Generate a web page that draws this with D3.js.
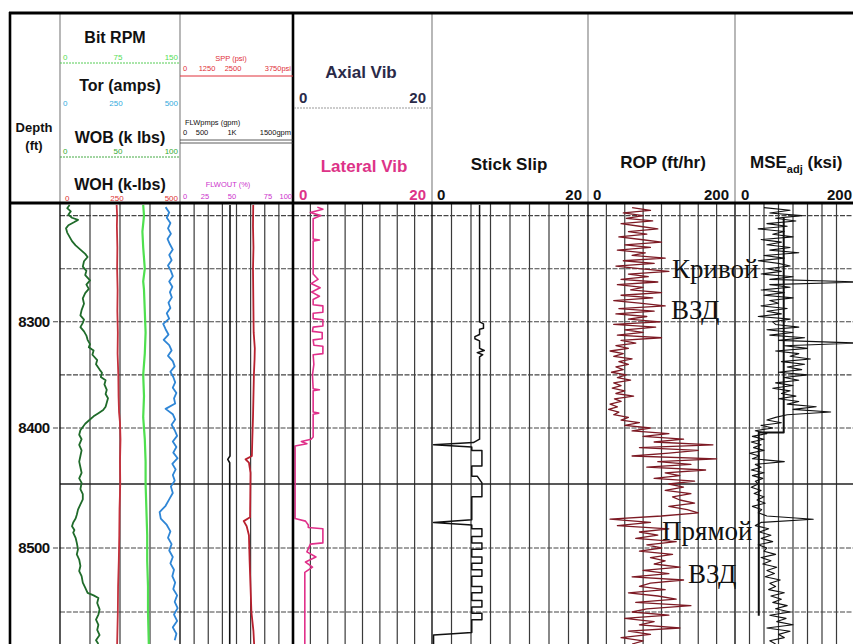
<!DOCTYPE html>
<html>
<head>
<meta charset="utf-8">
<script src="https://cdn.jsdelivr.net/npm/d3@7"></script>
<style>
body { margin: 0; background: #fff; }
svg { display: block; font-family: "Liberation Sans", Arial, sans-serif; }
</style>
</head>
<body>
<svg id="chart" width="853" height="644"></svg>
<script>
// DATA
// depth labels and grid (ft)
var depthLabels = [8300, 8400, 8500];
var gridDepths = [8200, 8250, 8300, 8350, 8400, 8450, 8500, 8550];

// Track 1 : [depth, value]
var wob = [[8190,8],[8193,6],[8196,9],[8199,7],[8202,10],[8204,15],[8206,12],[8209,7],[8212,5],[8216,6],[8220,8],[8224,10],[8228,13],[8232,17],[8236,21],[8239,23],[8243,20],[8248,19],[8252,22],[8256,21],[8261,25],[8265,22],[8269,24],[8273,21],[8278,19],[8283,20],[8289,18],[8294,17],[8298,20],[8301,19],[8305,17],[8309,20],[8313,22],[8317,23],[8321,25],[8324,24],[8327,28],[8331,27],[8336,31],[8340,30],[8345,33],[8348,35],[8352,34],[8355,38],[8359,37],[8364,39],[8368,38],[8372,40],[8376,39],[8380,38],[8383,36],[8386,32],[8389,28],[8392,25],[8396,21],[8399,19],[8402,17],[8406,16],[8410,18],[8415,16],[8420,18],[8425,17],[8430,16],[8435,17],[8440,18],[8445,16],[8449,18],[8454,17],[8458,19],[8462,19],[8466,17],[8470,15],[8474,14],[8477,13],[8480,11],[8483,10],[8486,12],[8488,11],[8492,13],[8496,14],[8501,15],[8505,14],[8509,16],[8514,17],[8518,16],[8522,18],[8527,19],[8531,21],[8535,23],[8537,28],[8539,32],[8543,31],[8548,33],[8552,32],[8556,30],[8560,32],[8564,31],[8568,33],[8572,30],[8575,32]];
var torDepthStart = 8192, torDepthStep = 5;
var torVals = [440,455,445,460,450,462,448,458,470,455,
  465,450,462,470,455,468,458,466,452,460,
  445,455,430,440,452,432,455,465,450,470,
  478,460,472,480,470,485,475,480,440,470,
  480,465,478,488,470,485,472,490,468,482,
  470,478,462,470,455,440,415,420,445,460,
  450,465,455,470,460,475,468,480,472,488,
  478,490,475,488,470,485,478];
var woh = [[8190,236],[8200,238],[8210,237],[8230,239],[8250,238],[8270,240],[8290,239],[8310,241],[8330,240],[8350,243],[8370,244],[8385,246],[8395,250],[8410,252],[8430,250],[8450,251],[8470,248],[8490,247],[8510,245],[8530,242],[8550,241],[8575,238]];
var rpm = [[8190,104],[8200,105],[8215,103],[8230,104],[8250,106],[8262,104],[8270,105],[8290,106],[8310,107],[8330,106],[8350,104],[8370,105],[8390,104],[8410,106],[8430,107],[8450,107],[8470,108],[8490,109],[8510,109],[8530,110],[8550,110],[8575,111]];

// Track 2
var spp = [[8190,3240],[8210,3230],[8230,3250],[8250,3230],[8270,3240],[8290,3250],[8310,3260],[8325,3310],[8335,3300],[8350,3270],[8370,3250],[8390,3230],[8410,3200],[8425,3180],[8428,2900],[8431,3050],[8440,3120],[8460,3110],[8476,3100],[8479,2820],[8483,2950],[8490,3050],[8510,3080],[8530,3120],[8550,3160],[8565,3250],[8575,3280]];
var flwIn = [[8190,885],[8300,885],[8425,885],[8428,845],[8431,880],[8575,880]];

// Track 3 lateral vibration
var latVib = [[8192,3.5],[8194,4.3],[8197,2.5],[8200,4.0],[8203,2.9],[8215,2.9],[8222,2.9],[8223,3.8],[8224,2.9],[8255,2.9],[8260,3.6],[8264,2.6],[8268,3.9],[8272,2.7],[8276,3.8],[8279,2.9],[8284,2.9],[8285,4.3],[8291,4.3],[8292,2.9],[8297,2.9],[8298,4.3],[8304,4.3],[8305,2.9],[8309,2.8],[8310,4.2],[8316,4.2],[8317,2.9],[8322,3.0],[8323,4.3],[8330,4.3],[8331,2.9],[8340,3.0],[8350,2.8],[8363,2.9],[8364,3.8],[8365,2.9],[8385,2.9],[8386,3.7],[8387,2.9],[8408,2.9],[8410,2.6],[8412,1.2],[8414,2.0],[8416,0.3],[8477,0.3],[8479,1.8],[8482,2.2],[8484,2.2],[8485,4.3],[8496,4.3],[8497,2.5],[8503,2.0],[8507,3.3],[8511,1.8],[8515,2.8],[8519,1.7],[8524,1.7],[8575,1.7]];

// Track 4 stick slip
var stickSlip = [[8190,6.1],[8300,6.1],[8302,6.6],[8306,6.6],[8307,6.1],[8312,6.1],[8314,5.5],[8316,5.5],[8318,6.1],[8325,6.1],[8327,6.7],[8329,5.8],[8331,6.5],[8333,6.1],[8410,6.1],[8413,5.3],[8415,0.2],[8417,5.1],[8420,5.1],[8420,6.4],[8434,6.4],[8434,5.1],[8443,5.1],[8443,5.8],[8449,6.4],[8460,6.4],[8460,5.1],[8478,5.1],[8480,0.2],[8482,5.1],[8485,5.1],[8485,6.4],[8491,6.4],[8491,5.1],[8496,5.1],[8496,6.4],[8501,6.4],[8501,5.1],[8507,5.1],[8507,6.4],[8512,6.4],[8512,5.1],[8517,5.1],[8517,6.4],[8522,6.4],[8522,5.1],[8530,5.1],[8530,6.4],[8535,6.4],[8535,5.1],[8541,5.1],[8541,6.4],[8546,6.4],[8546,5.1],[8551,5.1],[8551,6.4],[8556,6.4],[8556,5.1],[8566,5.1],[8567,2.7],[8568,0.2],[8575,0.2]];

// Tracks 5 and 6, sampled every 2.5 ft from 8192.5 ft
var logStart = 8192.5, logStep = 2.5;
var rop = [60,85,48,75, 52,88,45,70, 95,55,80,42, 72,100,50,85, 40,78,60,105,
  48,90,38,70, 110,55,82,45, 95,40,75,58, 100,45,88,35, 70,105,42,90,
  38,80,55,98, 35,92,50,75, 40,100,45,65, 38,55,30,48, 35,60,42,55,
  38,48,32,52, 40,58,35,45, 33,50,38,62, 36,45,30,40, 28,42,35,55,
  45,70,50,85, 60,110,75,130, 90,170,70,150, 110,60,175,95, 140,80,160,105,
  125,90,145,110, 130,105,140,115, 125,145,110,135, 150,100,30,85, 40,110,70,95,
  65,120,80,100, 70,115,85,105, 90,125,75,110, 60,130,85,70, 105,55,95,120,
  65,140,80,60, 110,50,90,70, 125,55,85,45, 75,60];
var mse = [50,95,60,115, 70,105,55,90, 40,85,65,100, 45,80,55,95, 60,110,50,85,
  40,75,95,55, 80,45,100,60, 215,60,95,45, 85,50,100,60, 75,45,90,55,
  80,40,95,65, 70,110,55,100, 60,120,75,215, 85,125,70,110, 95,130,80,120,
  90,115,75,125, 85,110,70,100, 65,95,80,105, 75,110,90,140, 100,165,90,70,
  55,80,45,65, 35,55,30,50, 28,45,32,50, 25,42,30,85, 35,45,28,50,
  30,48,35,40, 28,45,33,50, 38,52,30,46, 40,55,135,45, 35,58,42,62,
  45,65,40,55, 50,70,45,62, 48,72,55,68, 52,78,60,70, 58,85,62,80,
  65,90,70,95, 60,88,72,100, 55,95,75,85, 60,70];
var mseTrend = [[8202,84],[8404,84],[8404,41],[8553,41]];

// annotations [text, depth of baseline]
var notes = [["Кривой", 8259], ["ВЗД", 8297], ["Прямой", 8494], ["ВЗД", 8527]];

// LAYOUT
var svg = d3.select('#chart');
var headTop = 13, headBot = 203, bottomY = 644;
var y = d3.scaleLinear().domain([8190, 8400, 8450, 8550]).range([205, 428, 484, 612]);
var tracks = [
  {x0: 60, x1: 180, div: 4},
  {x0: 180, x1: 293, div: 8},
  {x0: 293, x1: 432, div: 8},
  {x0: 432, x1: 588, div: 8},
  {x0: 588, x1: 735, div: 8},
  {x0: 735, x1: 851, div: 8}
];

var rpmX = d3.scaleLinear([0, 150], [60, 180]);
var torX = d3.scaleLinear([0, 500], [60, 180]);
var wobX = d3.scaleLinear([0, 100], [60, 180]);
var wohX = d3.scaleLinear([0, 500], [60, 180]);
var sppX = d3.scaleLinear([0, 5000], [180, 293]);
var flwX = d3.scaleLinear([0, 2000], [180, 293]);
var latX = d3.scaleLinear([0, 20], [293, 432]);
var stickX = d3.scaleLinear([0, 20], [432, 588]);
var ropX = d3.scaleLinear([0, 200], [588, 735]);
var mseX = d3.scaleLinear([0, 200], [735, 851]);

svg.append('clipPath').attr('id', 'dataClip')
  .append('rect').attr('x', 10).attr('y', headBot).attr('width', 843).attr('height', bottomY - headBot);

var grid = svg.append('g').attr('clip-path', 'url(#dataClip)');

// vertical grid lines in each track
tracks.forEach(function(t) {
  var xs = d3.range(1, t.div).map(function(k) { return t.x0 + k * (t.x1 - t.x0) / t.div; });
  grid.selectAll(null).data(xs).enter().append('line')
    .attr('x1', function(d) { return d; }).attr('x2', function(d) { return d; })
    .attr('y1', headBot).attr('y2', bottomY)
    .attr('stroke', '#3a3a3a').attr('stroke-width', 1.2);
});

// horizontal depth grid
grid.selectAll(null).data(gridDepths).enter().append('line')
  .attr('x1', function(d) { return depthLabels.indexOf(d) >= 0 ? 53 : 60; })
  .attr('x2', 853)
  .attr('y1', function(d) { return y(d); }).attr('y2', function(d) { return y(d); })
  .attr('stroke', function(d) { return d === 8450 ? '#222' : '#444'; })
  .attr('stroke-width', function(d) { return d === 8450 ? 1.6 : 1.1; })
  .attr('stroke-dasharray', function(d) { return d === 8450 ? null : '5,1.5'; });

// depth labels
svg.selectAll(null).data(depthLabels).enter().append('text')
  .attr('x', 34).attr('y', function(d) { return y(d) + 5; })
  .attr('text-anchor', 'middle').attr('font-size', 15).attr('font-weight', 'bold')
  .attr('fill', '#111').attr('letter-spacing', -0.5)
  .text(function(d) { return d; });

// curves
var curves = svg.append('g').attr('clip-path', 'url(#dataClip)');
function drawCurve(data, xs, color, width) {
  curves.append('path').datum(data)
    .attr('d', d3.line().x(function(d) { return xs(d[1]); }).y(function(d) { return y(d[0]); }))
    .attr('fill', 'none').attr('stroke', color).attr('stroke-width', width)
    .attr('stroke-linejoin', 'round');
}
var torData = torVals.map(function(v, i) { return [torDepthStart + i * torDepthStep, v]; });
var ropData = rop.map(function(v, i) { return [logStart + i * logStep, v]; });
var mseData = mse.map(function(v, i) { return [logStart + i * logStep, v]; });

drawCurve(wob, wobX, '#1f6b2a', 1.8);
drawCurve(woh, wohX, '#c4303c', 1.8);
drawCurve(rpm, rpmX, '#4fe04f', 2.2);
drawCurve(torData, torX, '#2f86d6', 1.8);
drawCurve(flwIn, flwX, '#111', 1.6);
drawCurve(spp, sppX, '#b8202e', 1.8);
drawCurve(latVib, latX, '#e0308a', 1.6);
drawCurve(stickSlip, stickX, '#111', 1.5);
drawCurve(ropData, ropX, '#7d1a24', 1.3);
drawCurve(mseData, mseX, '#111', 1.1);
drawCurve(mseTrend, mseX, '#111', 2);

// annotations
svg.selectAll(null).data(notes).enter().append('text')
  .attr('x', function(d, i) { return [672, 671, 662, 688][i]; })
  .attr('y', function(d) { return y(d[1]); })
  .style('font-family', '"Liberation Serif", "Times New Roman", serif')
  .attr('font-size', 27).attr('fill', '#111')
  .text(function(d) { return d[0]; });

// track borders
var seps = [60, 180, 432, 588, 735];
svg.selectAll(null).data(seps).enter().append('line')
  .attr('x1', function(d) { return d; }).attr('x2', function(d) { return d; })
  .attr('y1', headTop).attr('y2', headBot)
  .attr('stroke', '#888').attr('stroke-width', 1.2);
svg.selectAll(null).data(seps).enter().append('line')
  .attr('x1', function(d) { return d; }).attr('x2', function(d) { return d; })
  .attr('y1', headBot).attr('y2', bottomY)
  .attr('stroke', '#111').attr('stroke-width', 1.4);
[10, 293].forEach(function(x) {
  svg.append('line').attr('x1', x).attr('x2', x).attr('y1', headTop - 1).attr('y2', bottomY)
    .attr('stroke', '#000').attr('stroke-width', 2.6);
});
[headTop, headBot].forEach(function(yy) {
  svg.append('line').attr('x1', 9).attr('x2', 853).attr('y1', yy).attr('y2', yy)
    .attr('stroke', '#000').attr('stroke-width', 3);
});

// HEADER
function txt(x, yy, s, size, color, anchor, bold) {
  return svg.append('text').attr('x', x).attr('y', yy)
    .attr('font-size', size).attr('fill', color)
    .attr('text-anchor', anchor || 'middle')
    .attr('font-weight', bold ? 'bold' : 'normal')
    .text(s);
}
function hline(x1, x2, yy, color, dash, w) {
  svg.append('line').attr('x1', x1).attr('x2', x2).attr('y1', yy).attr('y2', yy)
    .attr('stroke', color).attr('stroke-width', w || 1).attr('stroke-dasharray', dash || null);
}

txt(34, 132, 'Depth', 13, '#111', 'middle', true);
txt(34, 150, '(ft)', 13, '#111', 'middle', true);

// track 1 titles with small scale labels
txt(115, 43, 'Bit RPM', 16, '#111', 'middle', true);
txt(63, 60, '0', 8, '#55dd55', 'start'); txt(118, 60, '75', 8, '#55dd55'); txt(178, 60, '150', 8, '#55dd55', 'end');
hline(60, 180, 63, '#55cc55', '2,1', 1);
txt(120, 91, 'Tor (amps)', 16, '#111', 'middle', true);
txt(63, 106, '0', 8, '#33aadd', 'start'); txt(116, 106, '250', 8, '#33aadd'); txt(178, 106, '500', 8, '#33aadd', 'end');
txt(120, 143, 'WOB (k lbs)', 16, '#111', 'middle', true);
txt(63, 154, '0', 8, '#33aa33', 'start'); txt(118, 154, '50', 8, '#33aa33'); txt(178, 154, '100', 8, '#33aa33', 'end');
hline(60, 180, 157, '#44aa44', '2,1', 1);
txt(120, 190, 'WOH (k-lbs)', 16, '#111', 'middle', true);
txt(65, 201, '0', 8, '#dd3333', 'start'); txt(117, 201, '250', 8, '#dd3333'); txt(178, 201, '500', 8, '#dd3333', 'end');

// track 2
txt(231, 61, 'SPP (psi)', 7.5, '#e0303a');
txt(183, 71, '0', 7.5, '#e0303a', 'start'); txt(207, 71, '1250', 7.5, '#e0303a'); txt(233, 71, '2500', 7.5, '#e0303a');
txt(291, 71, '3750psi', 7.5, '#e0303a', 'end');
hline(180, 293, 76, '#e0303a', null, 1);
txt(185, 125, 'FLWpmps (gpm)', 7.5, '#111', 'start');
txt(183, 135, '0', 7.5, '#111', 'start'); txt(202, 135, '500', 7.5, '#111'); txt(232, 135, '1K', 7.5, '#111');
txt(291, 135, '1500gpm', 7.5, '#111', 'end');
hline(180, 293, 140, '#333', null, 0.8); hline(180, 293, 143, '#333', null, 0.8);
txt(228, 187, 'FLWOUT (%)', 7.5, '#cc33cc');
txt(183, 199, '0', 7.5, '#cc33cc', 'start'); txt(205, 199, '25', 7.5, '#cc33cc'); txt(232, 199, '50', 7.5, '#cc33cc');
txt(268, 199, '75', 7.5, '#cc33cc'); txt(292, 199, '100', 7.5, '#cc33cc', 'end');

// track 3
txt(361, 78, 'Axial Vib', 17, '#2a2a48', 'middle', true);
txt(299, 103, '0', 15, '#2a2a48', 'start', true); txt(426, 103, '20', 15, '#2a2a48', 'end', true);
hline(294, 432, 108, '#999', '2,1', 1);
txt(364, 172, 'Lateral Vib', 17, '#dd3388', 'middle', true);
txt(299, 200, '0', 15, '#dd3388', 'start', true); txt(426, 200, '20', 15, '#dd3388', 'end', true);

// track 4
txt(509, 170, 'Stick Slip', 17, '#111', 'middle', true);
txt(437, 200, '0', 15, '#111', 'start', true); txt(582, 200, '20', 15, '#111', 'end', true);

// track 5
txt(663, 168, 'ROP (ft/hr)', 17, '#111', 'middle', true);
txt(593, 200, '0', 15, '#111', 'start', true); txt(729, 200, '200', 15, '#111', 'end', true);

// track 6
var mseT = svg.append('text').attr('x', 750).attr('y', 168).attr('font-size', 17)
  .attr('font-weight', 'bold').attr('fill', '#111');
mseT.append('tspan').text('MSE');
mseT.append('tspan').attr('font-size', 11).attr('dy', 5).text('adj');
mseT.append('tspan').attr('dy', -5).text(' (ksi)');
txt(741, 200, '0', 15, '#111', 'start', true); txt(852, 200, '200', 15, '#111', 'end', true);
</script>
</body>
</html>
